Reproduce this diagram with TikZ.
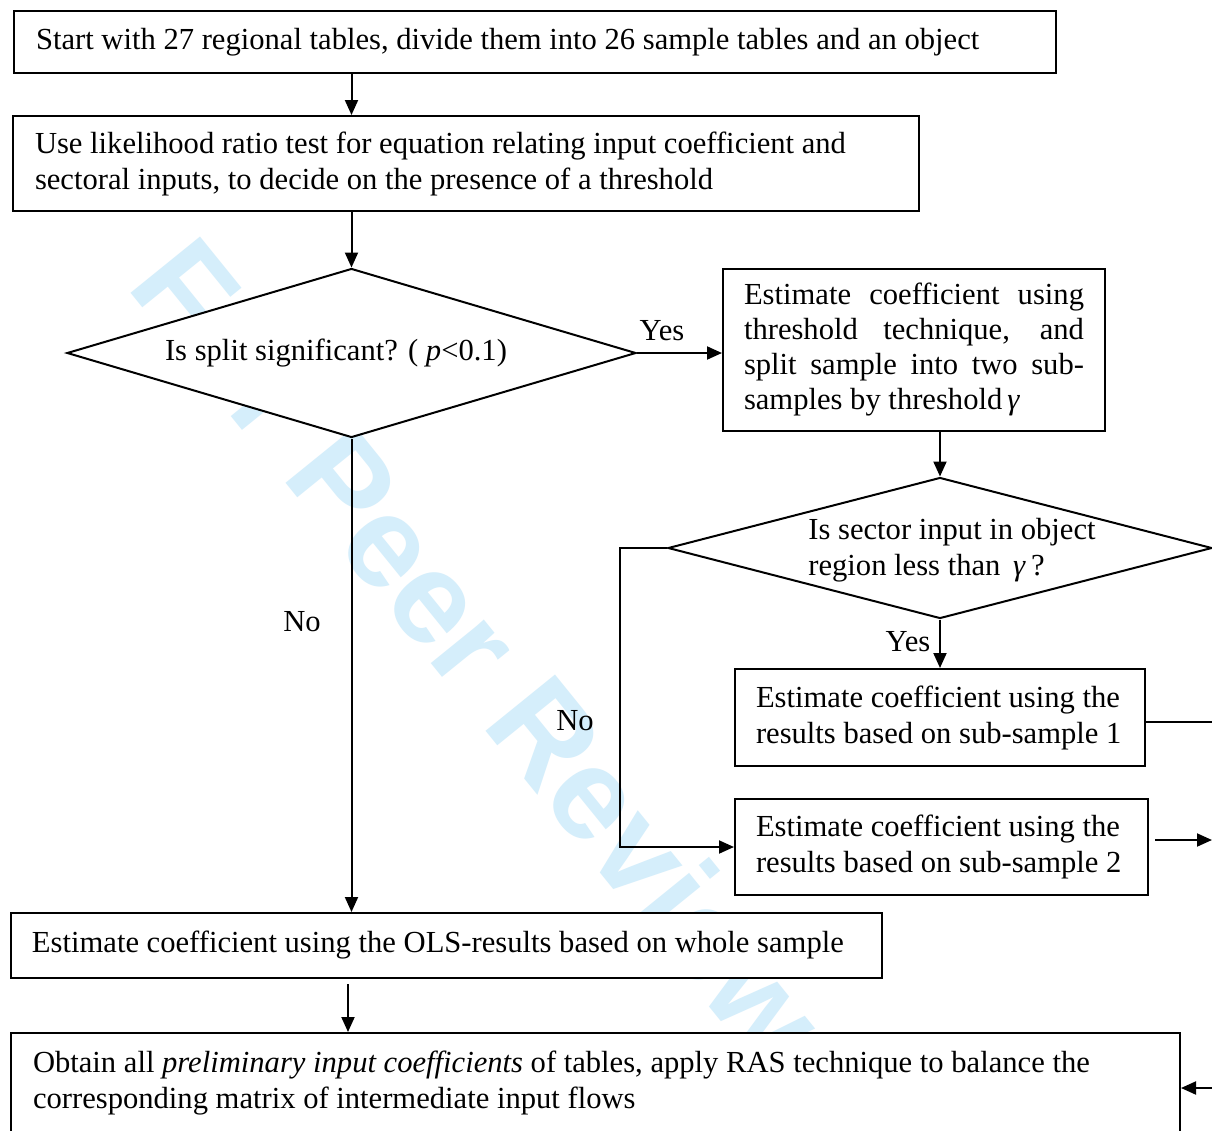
\documentclass[tikz,border=0pt]{standalone}
\usepackage{fontspec}
\setmainfont{Liberation Serif}
\newfontfamily\wmfont{Liberation Sans}
\usetikzlibrary{shapes.geometric,arrows.meta}
\definecolor{wmblue}{RGB}{213,238,251}
\tikzset{
  box/.style={draw, fill=white, line width=1pt, anchor=north west, align=left,
    inner ysep=0pt, inner xsep=10.5pt,
    execute at begin node={\spaceskip=0pt\xspaceskip=0pt}},
  dia/.style={draw, fill=white, line width=1pt, diamond, inner sep=0pt},
  arr/.style={line width=1pt, -{Triangle[length=7.5pt,width=6.5pt]}},
  con/.style={line width=1pt},
  lbl/.style={inner sep=0pt}
}
\begin{document}
\begin{tikzpicture}[x=0.5pt,y=-0.5pt,font=\fontsize{15.3pt}{18pt}\selectfont]
\clip (0,0) rectangle (1212,1131);
\fill[white] (0,0) rectangle (1212,1131);
% watermark
\node[wmblue, rotate=-51, font=\wmfont\bfseries\fontsize{65pt}{65pt}\selectfont] (wm) at (480,650) {For Peer Review};
% boxes
\node[box, inner xsep=11pt, text width=499pt, minimum height=31pt] (b1) at (13,10)
  {\mbox{Start with 27 regional tables, divide them into 26 sample tables and an object}};
\node[box, inner xsep=11pt, text width=431pt, minimum height=47.5pt] (b2) at (12,115)
  {\mbox{Use likelihood ratio test for equation relating input coefficient and}\\\mbox{sectoral inputs, to decide on the presence of a threshold}};
\node[dia, minimum width=284.5pt, minimum height=84.5pt] (d1) at (351.5,353) {};
\node[lbl] (d1t) at (336,353) {Is split significant? ( \textit{p}<0.1)};
\node[box, text width=170pt, minimum height=81pt, font=\fontsize{15.3pt}{17.5pt}\selectfont] (b3) at (722,268)
  {\makebox[170pt][s]{Estimate coefficient using}\\
   \makebox[170pt][s]{threshold technique, and}\\
   \makebox[170pt][s]{split sample into two sub-}\\
   \mbox{samples by threshold\,\textit{γ}}};
\node[dia, minimum width=272pt, minimum height=70.5pt] (d2) at (940,548) {};
\node[lbl, anchor=west, align=left] (d2t) at (808,550) {Is sector input in object\\region less than \,\textit{γ}\,?};
\node[box, text width=184pt, minimum height=48.5pt] (b4) at (734,668)
  {\mbox{Estimate coefficient using the}\\\mbox{results based on sub-sample 1}};
\node[box, text width=185.5pt, minimum height=48pt] (b5) at (734,798)
  {\mbox{Estimate coefficient using the}\\\mbox{results based on sub-sample 2}};
\node[box, text width=414.5pt, minimum height=32.5pt] (b6) at (10,912)
  {\mbox{Estimate coefficient using the OLS-results based on whole sample}};
\node[box, inner xsep=11pt, text width=562.5pt, minimum height=50pt] (b7) at (10,1032)
  {\mbox{Obtain all \textit{preliminary input coefficients} of tables, apply RAS technique to balance the}\\\mbox{corresponding matrix of intermediate input flows}};
% free ends
\coordinate (c1) at (620,548);
\coordinate (r1) at (1214,720);
\coordinate (r2s) at (1155,840);
\coordinate (r2) at (1212,840);
\coordinate (r3) at (1214,1088);
\coordinate (x6) at (348,0);
% connectors
\draw[arr] (d1.north |- b1.south) -- (d1.north |- b2.north);
\draw[arr] (d1.north |- b2.south) -- (d1.north);
\draw[arr] (d1.east) -- (d1.east -| b3.west);
\node[lbl] (yes1) at (662,331) {Yes};
\draw[arr] (d2.north |- b3.south) -- (d2.north);
\draw[arr] (d2.south) -- (d2.south |- b4.north);
\node[lbl] (yes2) at (908,642) {Yes};
\draw[arr] (d2.west) -- (c1) |- (b5.west);
\node[lbl] (no2) at (575,721) {No};
\draw[arr] (d1.south) -- (d1.south |- b6.north);
\node[lbl] (no1) at (302,622) {No};
\draw[arr] (x6 |- b6.south) ++(0,5) -- (x6 |- b7.north);
\draw[con] ([yshift=-2pt]b4.east) -- ([yshift=-2pt]b4.east -| r1);
\draw[arr] (r2s) -- (r2);
\draw[arr] (r3) -- (r3 -| b7.east);
\end{tikzpicture}
\end{document}
